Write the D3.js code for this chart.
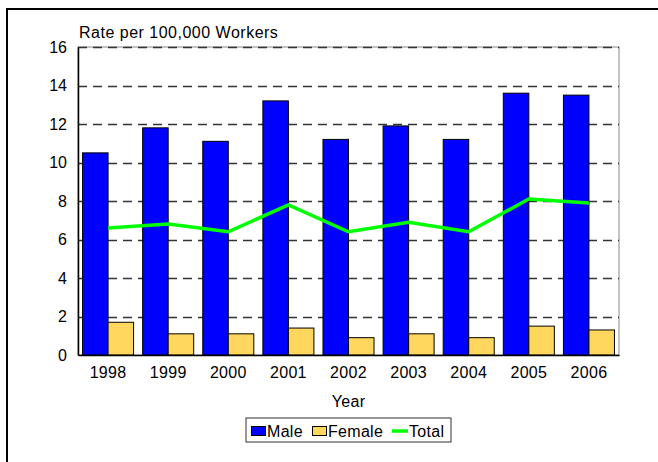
<!DOCTYPE html>
<html>
<head>
<meta charset="utf-8">
<script src="https://cdn.jsdelivr.net/npm/d3@7"></script>
<style>
  body { margin: 0; background: #fff; }
  svg text { font-family: "Liberation Sans", Arial, sans-serif; fill: #000; }
</style>
</head>
<body>
<svg id="chart" width="658" height="462"></svg>
<script>
// chart data
var years = ["1998", "1999", "2000", "2001", "2002", "2003", "2004", "2005", "2006"];
var male = [10.5, 11.8, 11.1, 13.2, 11.2, 11.9, 11.2, 13.6, 13.5];
var female = [1.7, 1.1, 1.1, 1.4, 0.9, 1.1, 0.9, 1.5, 1.3];
var total = [6.6, 6.8, 6.4, 7.8, 6.4, 6.9, 6.4, 8.1, 7.9];
var yTicks = [0, 2, 4, 6, 8, 10, 12, 14, 16];
var seriesNames = ["Male", "Female", "Total"];
var colors = { Male: "#0000ff", Female: "#ffd75e", Total: "#00ff00" };

var svg = d3.select("#chart");

// outer frame (runs off the right and bottom of the picture)
svg.append("rect")
	.attr("x", 7).attr("y", 9)
	.attr("width", 700).attr("height", 500)
	.attr("fill", "none").attr("stroke", "#000").attr("stroke-width", 2);

var plot = { left: 78, right: 619, top: 47, bottom: 355 };

var x = d3.scaleBand().domain(years)
	.range([plot.left, plot.right])
	.paddingInner(0.151).paddingOuter(0.0757);
var xSub = d3.scaleBand().domain(["Male", "Female"]).range([0, x.bandwidth()]);
var y = d3.scaleLinear().domain([0, 16]).range([plot.bottom, plot.top]);

// plot border (grey) on top/right
svg.append("rect")
	.attr("x", plot.left).attr("y", plot.top)
	.attr("width", plot.right - plot.left).attr("height", plot.bottom - plot.top)
	.attr("fill", "none").attr("stroke", "#888").attr("stroke-width", 1);

// dashed grid lines
svg.append("g").selectAll("line")
	.data(yTicks.filter(function (d) { return d > 0; }))
	.join("line")
	.attr("x1", plot.left).attr("x2", plot.right)
	.attr("y1", function (d) { return Math.round(y(d)) + 0.5; })
	.attr("y2", function (d) { return Math.round(y(d)) + 0.5; })
	.attr("stroke", "#333").attr("stroke-width", 1.3)
	.attr("stroke-dasharray", "9,6");

// bars
var groups = svg.append("g").selectAll("g")
	.data(years)
	.join("g")
	.attr("transform", function (d) { return "translate(" + x(d) + ",0)"; });

groups.append("rect")
	.attr("x", xSub("Male"))
	.attr("y", function (d, i) { return y(male[i]); })
	.attr("width", xSub.bandwidth())
	.attr("height", function (d, i) { return y(0) - y(male[i]); })
	.attr("fill", colors.Male).attr("stroke", "#000").attr("stroke-width", 1);

groups.append("rect")
	.attr("x", xSub("Female"))
	.attr("y", function (d, i) { return y(female[i]); })
	.attr("width", xSub.bandwidth())
	.attr("height", function (d, i) { return y(0) - y(female[i]); })
	.attr("fill", colors.Female).attr("stroke", "#000").attr("stroke-width", 1);

// total line
var line = d3.line()
	.x(function (d, i) { return x(years[i]) + x.bandwidth() / 2; })
	.y(function (d) { return y(d); });

svg.append("path")
	.datum(total)
	.attr("d", line)
	.attr("fill", "none")
	.attr("stroke", colors.Total)
	.attr("stroke-width", 3.5)
	.attr("stroke-linejoin", "miter");

// axes
var yAxis = d3.axisLeft(y).tickValues(yTicks).tickSize(0).tickPadding(11);
var gy = svg.append("g").attr("transform", "translate(" + plot.left + ",0)").call(yAxis);
gy.select(".domain").attr("stroke", "#000").attr("stroke-width", 1.5);
gy.selectAll("text").style("font-size", "16px").attr("fill", "#000");

var xAxis = d3.axisBottom(x).tickSize(0).tickPadding(12);
var gx = svg.append("g").attr("transform", "translate(0," + plot.bottom + ")").call(xAxis);
gx.select(".domain").attr("stroke", "#000").attr("stroke-width", 1.5);
gx.selectAll("text").style("font-size", "16px").style("letter-spacing", "0.3px").attr("fill", "#000");

// axis titles
svg.append("text")
	.attr("x", plot.left + 1).attr("y", 38)
	.style("font-size", "16px").style("letter-spacing", "0.5px")
	.text("Rate per 100,000 Workers");

svg.append("text")
	.attr("x", (plot.left + plot.right) / 2).attr("y", 407)
	.attr("text-anchor", "middle")
	.style("font-size", "16px").style("letter-spacing", "0.3px")
	.text("Year");

// legend
var legend = svg.append("g");
legend.append("rect")
	.attr("x", 246).attr("y", 418)
	.attr("width", 205).attr("height", 24)
	.attr("fill", "#fff").attr("stroke", "#333").attr("stroke-width", 1);

var legendX = [251, 312, 392];
var items = legend.selectAll("g.item")
	.data(seriesNames)
	.join("g")
	.attr("class", "item")
	.attr("transform", function (d, i) { return "translate(" + legendX[i] + ",0)"; });

items.filter(function (d) { return d !== "Total"; })
	.append("rect")
	.attr("x", 0.5).attr("y", 426.5)
	.attr("width", 14).attr("height", 9)
	.attr("fill", function (d) { return colors[d]; })
	.attr("stroke", "#000").attr("stroke-width", 1);

items.filter(function (d) { return d === "Total"; })
	.append("line")
	.attr("x1", 0).attr("x2", 16)
	.attr("y1", 431).attr("y2", 431)
	.attr("stroke", colors.Total).attr("stroke-width", 3.5);

items.append("text")
	.attr("x", function (d) { return d === "Total" ? 17 : 16; })
	.attr("y", 437)
	.style("font-size", "16px")
	.style("letter-spacing", "0.3px")
	.text(function (d) { return d; });
</script>
</body>
</html>
